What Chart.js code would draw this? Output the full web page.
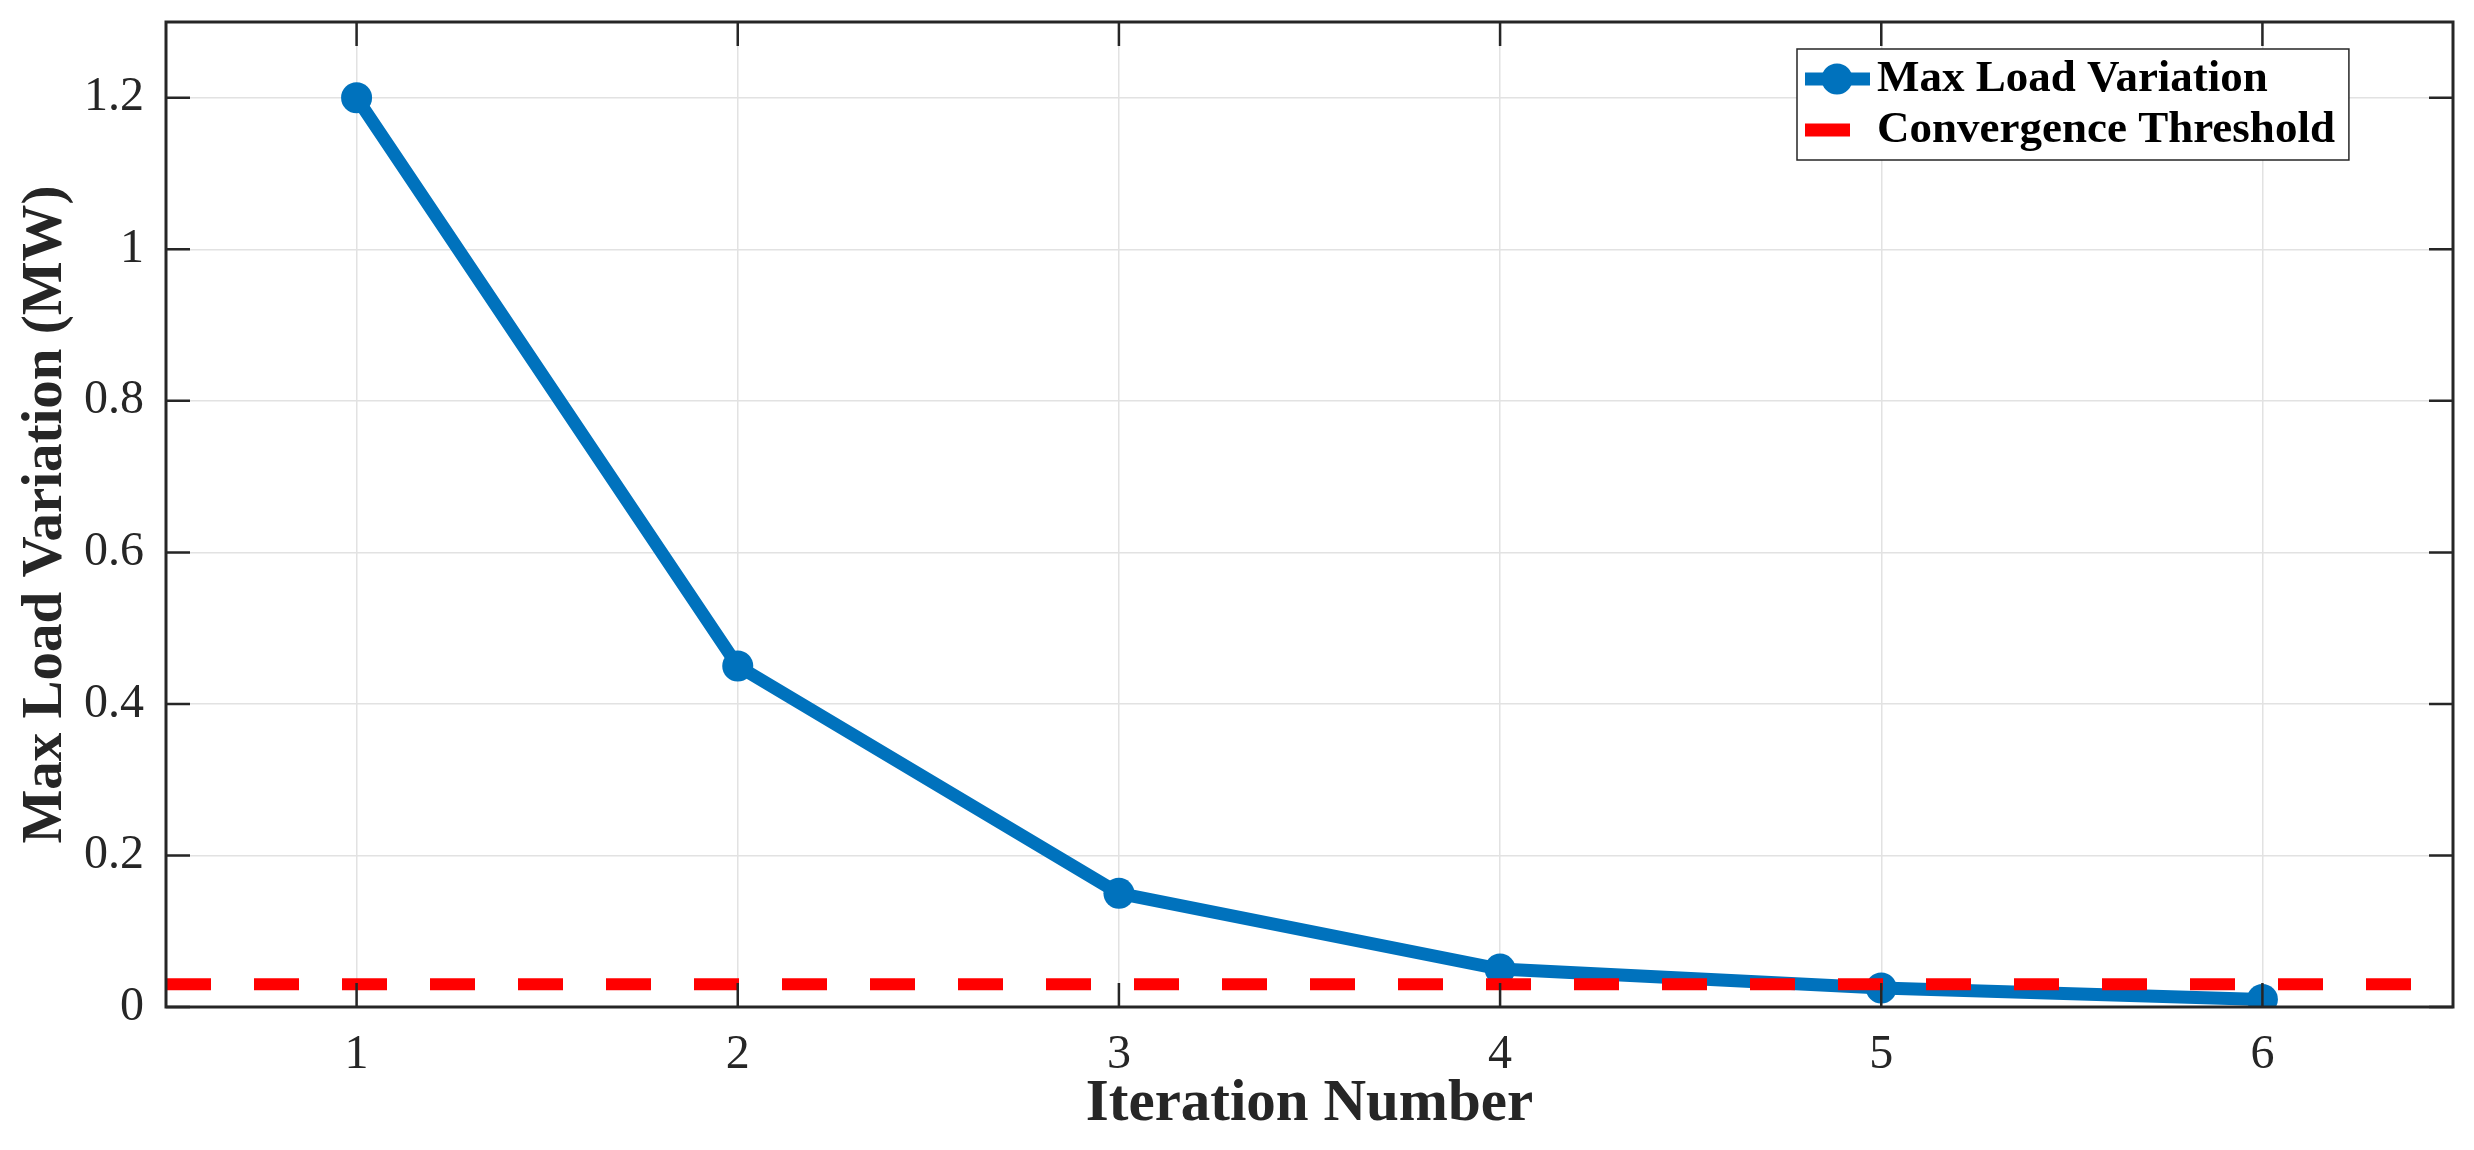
<!DOCTYPE html>
<html>
<head>
<meta charset="utf-8">
<script src="https://cdn.jsdelivr.net/npm/chart.js@4.4.1/dist/chart.umd.min.js"></script>
<style>
  html, body { margin: 0; padding: 0; background: #fff; }
  canvas { display: block; }
</style>
</head>
<body>
<canvas id="grafico" width="2474" height="1150"></canvas>
<script>
// dados
const iteracoes = [1, 2, 3, 4, 5, 6];
const variacaoMax = [1.2, 0.45, 0.15, 0.05, 0.025, 0.01];
const limiarX = [0.5, 6.5];
const limiar = [0.03, 0.03];
const xTicks = [1, 2, 3, 4, 5, 6];
const yTicks = [0, 0.2, 0.4, 0.6, 0.8, 1, 1.2];
const nomeSerie = 'Max Load Variation';
const nomeLimiar = 'Convergence Threshold';

const AZUL = '#0072BD';
const VERMELHO = '#FF0000';
const EIXO = '#262626';
const FONTE = '"Liberation Serif", "Times New Roman", serif';

// caixa + ticks para dentro (estilo matlab)
const caixaPlugin = {
  id: 'caixa',
  afterDraw(chart) {
    const ctx = chart.ctx;
    const a = chart.chartArea;
    const sx = chart.scales.x, sy = chart.scales.y;
    const tl = 24;
    ctx.save();
    ctx.strokeStyle = EIXO;
    ctx.lineWidth = 2.5;
    ctx.beginPath();
    xTicks.forEach(v => {
      const px = sx.getPixelForValue(v);
      ctx.moveTo(px, a.bottom); ctx.lineTo(px, a.bottom - tl);
      ctx.moveTo(px, a.top); ctx.lineTo(px, a.top + tl);
    });
    yTicks.forEach(v => {
      const py = sy.getPixelForValue(v);
      ctx.moveTo(a.left, py); ctx.lineTo(a.left + tl, py);
      ctx.moveTo(a.right, py); ctx.lineTo(a.right - tl, py);
    });
    ctx.stroke();
    ctx.lineWidth = 3;
    ctx.strokeRect(a.left, a.top, a.right - a.left, a.bottom - a.top);
    ctx.restore();
  }
};

// legenda com borda
const legendaPlugin = {
  id: 'legenda',
  afterDraw(chart) {
    const ctx = chart.ctx;
    const ds = chart.data.datasets;
    const bx = 1797, by = 49, bh = 111;
    const tx = 1877;
    ctx.save();
    ctx.font = 'bold 45px ' + FONTE;
    const w = Math.max(...ds.map(d => ctx.measureText(d.label).width));
    const bw = tx - bx + w + 14;
    ctx.fillStyle = '#fff';
    ctx.fillRect(bx, by, bw, bh);
    ctx.strokeStyle = EIXO;
    ctx.lineWidth = 1.5;
    ctx.strokeRect(bx, by, bw, bh);
    const rows = [79, 130];
    // serie
    ctx.strokeStyle = AZUL;
    ctx.lineWidth = 13;
    ctx.beginPath();
    ctx.moveTo(1805, rows[0]); ctx.lineTo(1870, rows[0]);
    ctx.stroke();
    ctx.fillStyle = AZUL;
    ctx.beginPath();
    ctx.arc(1837, rows[0], 15.5, 0, Math.PI * 2);
    ctx.fill();
    // limiar
    ctx.strokeStyle = VERMELHO;
    ctx.lineWidth = 13;
    ctx.beginPath();
    ctx.moveTo(1805, rows[1]); ctx.lineTo(1850, rows[1]);
    ctx.stroke();
    ctx.fillStyle = '#000';
    ctx.textBaseline = 'middle';
    ctx.fillText(ds[0].label, tx, rows[0]);
    ctx.fillText(ds[1].label, tx, rows[1]);
    ctx.restore();
  }
};

const config = {
  type: 'line',
  data: {
    datasets: [
      {
        label: nomeSerie,
        data: iteracoes.map((x, i) => ({x: x, y: variacaoMax[i]})),
        borderColor: AZUL,
        backgroundColor: AZUL,
        borderWidth: 13,
        pointRadius: 15.5,
        pointBorderWidth: 0,
        pointBackgroundColor: AZUL,
        tension: 0,
        order: 1
      },
      {
        label: nomeLimiar,
        data: limiarX.map((x, i) => ({x: x, y: limiar[i]})),
        borderColor: VERMELHO,
        borderWidth: 12,
        borderDash: [45, 43],
        borderCapStyle: 'butt',
        pointRadius: 0,
        order: 0
      }
    ]
  },
  options: {
    responsive: false,
    animation: false,
    devicePixelRatio: 1,
    layout: { padding: { top: 22, right: 21, left: 0, bottom: 0 } },
    plugins: {
      legend: { display: false },
      tooltip: { enabled: false }
    },
    scales: {
      x: {
        type: 'linear',
        min: 0.5,
        max: 6.5,
        afterBuildTicks: (axis) => { axis.ticks = xTicks.map(v => ({value: v})); },
        afterFit: (scale) => {
          scale.height = 143;
          scale.paddingLeft = 0; scale.paddingRight = 0;
        },
        grid: { color: '#e2e2e2', lineWidth: 1.5, drawTicks: false },
        border: { display: false },
        ticks: {
          padding: 20,
          color: EIXO,
          font: { family: FONTE, size: 48 },
          callback: (v) => String(v)
        },
        title: {
          display: true,
          text: 'Iteration Number',
          color: EIXO,
          font: { family: FONTE, size: 59, weight: 'bold' },
          padding: { top: 0, bottom: 10 }
        }
      },
      y: {
        type: 'linear',
        min: 0,
        max: 1.3,
        afterBuildTicks: (axis) => { axis.ticks = yTicks.map(v => ({value: v})); },
        afterFit: (scale) => {
          scale.width = 166;
          scale.paddingTop = 0; scale.paddingBottom = 0;
        },
        grid: { color: '#e2e2e2', lineWidth: 1.5, drawTicks: false },
        border: { display: false },
        ticks: {
          padding: 22,
          color: EIXO,
          font: { family: FONTE, size: 48 },
          callback: (v) => String(Number(v.toFixed(2)))
        },
        title: {
          display: true,
          text: 'Max Load Variation (MW)',
          color: EIXO,
          font: { family: FONTE, size: 57, weight: 'bold' },
          padding: { top: 12, bottom: 0 }
        }
      }
    }
  },
  plugins: [caixaPlugin, legendaPlugin]
};

var meuGrafico = new Chart(document.getElementById('grafico'), config);
</script>
</body>
</html>
